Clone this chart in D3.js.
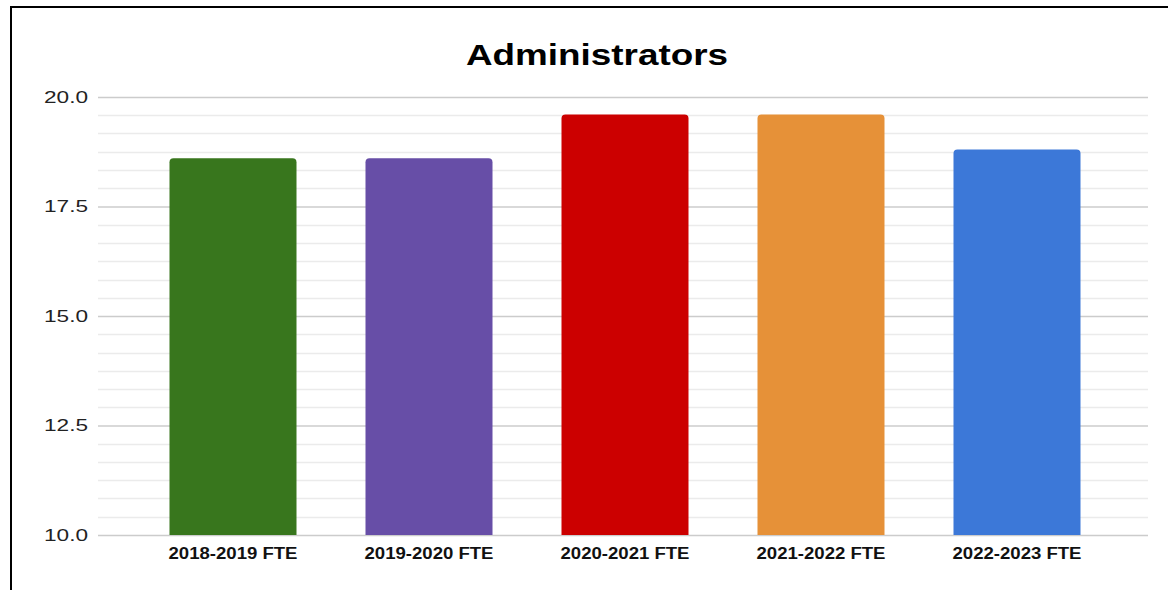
<!DOCTYPE html>
<html>
<head>
<meta charset="utf-8">
<script src="https://cdn.jsdelivr.net/npm/d3@7"></script>
<style>
  html, body { margin: 0; padding: 0; background: #fff; }
  svg { display: block; font-family: Arial, "Liberation Sans", sans-serif; }
</style>
</head>
<body>
<svg id="chart" width="1168" height="590"></svg>
<script>
// Administrator FTE by school year
const categories = ["2018-2019 FTE", "2019-2020 FTE", "2020-2021 FTE", "2021-2022 FTE", "2022-2023 FTE"];
const values = [18.6, 18.6, 19.6, 19.6, 18.8];
const barColors = ["#38761d", "#674ea7", "#cc0000", "#e69138", "#3c78d8"];
const majorTicks = [10, 12.5, 15, 17.5, 20];
const title = "Administrators";

const svg = d3.select("#chart");
const W = 1168, H = 590;

// outer frame
svg.append("rect")
  .attr("x", 11).attr("y", 7)
  .attr("width", W).attr("height", H)
  .attr("fill", "none").attr("stroke", "#000").attr("stroke-width", 2);

const plotLeft = 98, plotRight = 1148;
const y = d3.scaleLinear().domain([10, 20]).range([535, 97]);
const x = d3.scaleBand()
  .domain(categories)
  .range([135, 1115])
  .paddingInner(0.352)
  .paddingOuter(0.176);

// minor gridlines: five between each pair of major ticks
const minorTicks = [];
for (let i = 0; i < majorTicks.length - 1; i++) {
  const a = majorTicks[i], b = majorTicks[i + 1];
  for (let k = 1; k < 6; k++) minorTicks.push(a + (b - a) * k / 6);
}

svg.append("g").selectAll("line").data(minorTicks).join("line")
  .attr("x1", plotLeft).attr("x2", plotRight)
  .attr("y1", d => Math.round(y(d)) + 0.5).attr("y2", d => Math.round(y(d)) + 0.5)
  .attr("stroke", "#ebebeb").attr("stroke-width", 1.5);

// y axis with major gridlines
const yAxis = d3.axisLeft(y)
  .tickValues(majorTicks)
  .tickFormat(d3.format(".1f"))
  .tickSize(-(plotRight - plotLeft))
  .tickPadding(10);

const gy = svg.append("g").attr("transform", `translate(${plotLeft},0)`).call(yAxis);
gy.select(".domain").remove();
gy.selectAll(".tick line").attr("stroke", "#cccccc").attr("stroke-width", 1.5);
gy.selectAll(".tick text")
  .attr("fill", "#222")
  .attr("font-size", 17)
  .attr("x", -10)
  .attr("textLength", 44)
  .attr("lengthAdjust", "spacingAndGlyphs");

// bars with rounded top corners
const r = 4;
function barPath(d, i) {
  const x0 = x(categories[i]), w = x.bandwidth();
  const yt = y(d), yb = y(10);
  return `M${x0},${yb}V${yt + r}Q${x0},${yt} ${x0 + r},${yt}H${x0 + w - r}Q${x0 + w},${yt} ${x0 + w},${yt + r}V${yb}Z`;
}
svg.append("g").selectAll("path").data(values).join("path")
  .attr("d", (d, i) => barPath(d, i))
  .attr("fill", (d, i) => barColors[i]);

// x axis labels
const xAxis = d3.axisBottom(x).tickSize(0).tickPadding(13);
const gx = svg.append("g").attr("transform", `translate(0,${y(10)})`).call(xAxis);
gx.select(".domain").remove();
gx.selectAll(".tick text")
  .attr("fill", "#111")
  .attr("font-size", 16)
  .attr("font-weight", "bold")
  .attr("textLength", 129)
  .attr("lengthAdjust", "spacingAndGlyphs");

// title
svg.append("text")
  .attr("x", 597).attr("y", 65)
  .attr("text-anchor", "middle")
  .attr("font-size", 30)
  .attr("font-weight", "bold")
  .attr("fill", "#000")
  .attr("textLength", 262)
  .attr("lengthAdjust", "spacingAndGlyphs")
  .text(title);
</script>
</body>
</html>
